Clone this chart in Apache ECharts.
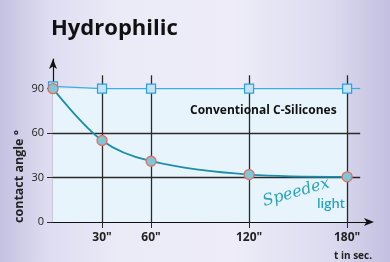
<!DOCTYPE html>
<html><head><meta charset="utf-8">
<script src="https://cdn.jsdelivr.net/npm/echarts@6/dist/echarts.min.js"></script>
<style>html,body{margin:0;padding:0;}#c{width:390px;height:262px;}</style>
</head><body><div id="c"></div>
<script>
var times = [0, 30, 60, 120, 180];
var hydrophilic = [90, 55, 41, 32, 30.5];
var conventional = [91.5, 90, 90, 90, 90];
var xTicks = [30, 60, 120, 180];
var xTickLabels = ['30"', '60"', '120"', '180"'];
var yTicks = [0, 30, 60, 90];

var chart = echarts.init(document.getElementById('c'));
var dark = '#2a2a2a';
var option = {
  backgroundColor: {type:'linear', x:0, y:0, x2:1, y2:0, colorStops:[
    {offset:0, color:'#c4c1e1'},{offset:0.12, color:'#dedcf0'},{offset:0.3, color:'#ebeaf7'},
    {offset:0.6, color:'#edecf8'},{offset:0.85, color:'#dcdaef'},{offset:1, color:'#c3bfe0'}]},
  animation:false,
  grid:{left:53, right:20, top:59, bottom:40},
  xAxis:{type:'value', min:0, max:194, interval:30,
    axisLine:{show:true, lineStyle:{color:'#111', width:1.2}, symbol:['none','arrow'], symbolSize:[6,10], symbolOffset:[0,4]},
    axisTick:{show:true, customValues:xTicks, length:6, lineStyle:{color:dark}},
    axisLabel:{customValues:xTicks, formatter:function(v){return xTickLabels[xTicks.indexOf(v)]||'';}, fontWeight:'bold', fontSize:12, color:'#222', margin:10, fontFamily:'Open Sans'},
    splitLine:{show:false}},
  yAxis:{type:'value', min:0, max:110, interval:30,
    axisLine:{show:true, lineStyle:{color:'#111', width:1.2}, symbol:['none','arrow'], symbolSize:[6,10]},
    axisTick:{show:true, customValues:yTicks, length:6, lineStyle:{color:dark}},
    axisLabel:{customValues:yTicks, fontSize:11, color:'#222', margin:9, fontFamily:'Open Sans'},
    splitLine:{show:false}},
  graphic:[
    {type:'text', z:100, left:51, top:18, style:{text:'Hydrophilic', font:'bold 22px "Open Sans"', fill:'#111'}},
    {type:'text', z:100, x:13, y:223, rotation:Math.PI/2, style:{text:'contact angle °', font:'bold 12.5px "Open Sans"', fill:'#222', textAlign:'left', textVerticalAlign:'top'}},
    {type:'text', z:100, x:372, y:256, style:{text:'t in sec.', font:'bold 10px "Open Sans"', fill:'#222', textAlign:'right', textVerticalAlign:'middle'}},
    {type:'text', z:100, x:190, y:111, style:{text:'Conventional C-Silicones', font:'bold 12px "Open Sans"', fill:'#111', textAlign:'left', textVerticalAlign:'middle'}},
    {type:'text', z:100, x:263, y:202, rotation:0.28, style:{text:'Speedex', font:'italic 16px "DejaVu Serif"', fill:'#2aa3be', textAlign:'left', textVerticalAlign:'middle'}},
    {type:'text', z:100, x:317, y:204, style:{text:'light', font:'600 13px "Open Sans"', fill:'#2aa3be', textAlign:'left', textVerticalAlign:'middle'}}
  ],
  series:[
    {type:'line', data:times.map(function(t,i){return [t, conventional[i]];}), symbol:'rect', symbolSize:9,
     lineStyle:{color:'#3aaee2', width:1.2}, itemStyle:{color:'#c2e4f6', borderColor:'#2e9fdc', borderWidth:1.2}, z:5,
     markArea:{silent:true, itemStyle:{color:'#e7f4fc'}, data:[[{coord:[0,0]},{coord:[180,90]}]]},
     markLine:{silent:true, symbol:'none', label:{show:false}, lineStyle:{color:'#3aaee2', width:1.2, type:'solid'},
       data:[[{coord:[180,90]},{coord:[188,90]}]]}},
    {type:'line', data:[], z:2,
     markLine:{silent:true, symbol:'none', label:{show:false}, lineStyle:{color:dark, width:1.3, type:'solid'},
       data: xTicks.map(function(t){return [{coord:[t,0]},{coord:[t,99]}];}).concat(
             [30,60].map(function(v){return [{coord:[0,v]},{coord:[188,v]}];}))}},
    {type:'line', data:times.map(function(t,i){return [t, hydrophilic[i]];}), smooth:0.35, symbol:'circle', symbolSize:10,
     lineStyle:{color:'#1b8fa9', width:1.8}, itemStyle:{color:'#7ec6d8', borderColor:'#e2705e', borderWidth:1.3}, z:6}
  ]
};
chart.setOption(option);
</script></body></html>
